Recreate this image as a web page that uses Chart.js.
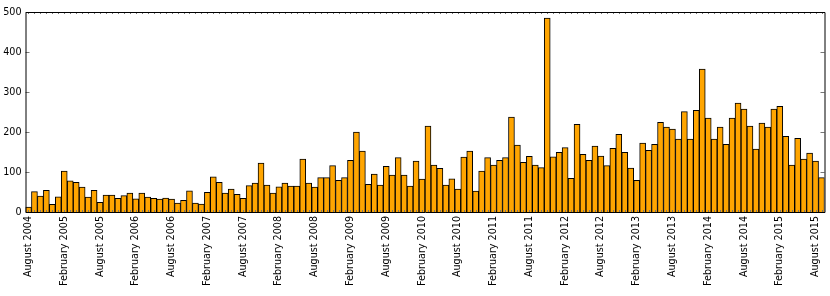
<!DOCTYPE html>
<html><head><meta charset="utf-8">
<script src="https://cdn.jsdelivr.net/npm/chart.js@4"></script>
<style>html,body{margin:0;padding:0;background:#fff}#wrap{width:830px;height:296px}</style>
</head><body><div id="wrap"><canvas id="c" width="830" height="296"></canvas></div>
<script>
const monthNames = ['January','February','March','April','May','June','July','August','September','October','November','December'];
const startYear = 2004;
const startMonthIndex = 7; // August
const values = [
  12, 51, 40, 54, 19, 38, 102, 78, 74, 62, 37, 54, 24, 42, 42, 34, 41, 47, 33, 47,
  37, 34, 32, 35, 32, 22, 29, 53, 22, 20, 49, 88, 74, 47, 57, 44, 34, 66, 72, 122,
  67, 47, 63, 72, 65, 65, 132, 72, 62, 86, 86, 116, 79, 86, 129, 200, 152, 69, 95, 67,
  114, 92, 136, 92, 65, 127, 82, 215, 117, 109, 67, 83, 57, 137, 152, 52, 102, 136, 117, 129,
  136, 237, 167, 124, 139, 117, 111, 485, 138, 149, 161, 84, 219, 144, 129, 165, 140, 116, 159, 194,
  149, 110, 79, 172, 154, 169, 224, 212, 207, 182, 251, 182, 254, 357, 235, 182, 212, 169, 235, 272,
  257, 215, 157, 222, 212, 257, 264, 189, 117, 184, 132, 147, 127, 86
];
const categories = values.map((_, i) => {
  const m = (startMonthIndex + i) % 12;
  const y = startYear + Math.floor((startMonthIndex + i) / 12);
  return monthNames[m] + ' ' + y;
});
const labelEvery = 6;
const yTicks = [0, 100, 200, 300, 400, 500];

const FONT = {family: "'DejaVu Sans', sans-serif", size: 9.6};

const framePlugin = {
  id: 'frame',
  afterDatasetsDraw(chart) {
    const {ctx, chartArea: a, scales: {x, y}} = chart;
    ctx.save();
    ctx.strokeStyle = '#777';
    ctx.lineWidth = 1;
    ctx.beginPath();
    for (let i = 0; i < categories.length; i++) {
      const px = Math.round(x.getPixelForValue(i)) + 0.5;
      ctx.moveTo(px, a.top); ctx.lineTo(px, a.top + 2);
      ctx.moveTo(px, a.bottom); ctx.lineTo(px, a.bottom - 2);
    }
    yTicks.forEach(v => {
      const py = Math.round(y.getPixelForValue(v)) + 0.5;
      ctx.moveTo(a.left, py); ctx.lineTo(a.left + 4, py);
      ctx.moveTo(a.right, py); ctx.lineTo(a.right - 4, py);
    });
    ctx.stroke();
    ctx.strokeStyle = '#000';
    const L = Math.round(a.left), R = Math.round(a.right);
    const T = Math.round(a.top) + 0.5, B = Math.round(a.bottom) + 0.5;
    ctx.beginPath();
    ctx.moveTo(L, T); ctx.lineTo(R, T);
    ctx.moveTo(L, B); ctx.lineTo(R, B);
    ctx.moveTo(L, T); ctx.lineTo(L, B);
    ctx.moveTo(R, T); ctx.lineTo(R, B);
    ctx.stroke();
    ctx.restore();
  }
};

new Chart(document.getElementById('c'), {
  type: 'bar',
  data: {
    labels: categories,
    datasets: [{
      data: values,
      backgroundColor: '#FFA500',
      borderColor: '#000',
      borderWidth: 1,
      barPercentage: 1,
      categoryPercentage: 1
    }]
  },
  options: {
    responsive: false,
    animation: false,
    devicePixelRatio: 1,
    layout: {padding: {top: 12, right: 5.5, left: 0, bottom: 0}},
    plugins: {legend: {display: false}, tooltip: {enabled: false}},
    scales: {
      x: {
        type: 'category',
        offset: true,
        grid: {display: false, drawTicks: false},
        border: {display: false},
        ticks: {
          autoSkip: false, maxRotation: 90, minRotation: 90, padding: 4,
          color: '#000', font: FONT,
          callback: function (v, i) { return i % labelEvery === 0 ? categories[i] : ''; }
        },
        afterFit: s => { s.height = 84; s.paddingRight = 0; s.paddingLeft = 0; }
      },
      y: {
        min: 0, max: 500,
        grid: {display: false, drawTicks: false},
        border: {display: false},
        ticks: {stepSize: 100, padding: 4, color: '#000', font: FONT},
        afterFit: s => { s.width = 25.5; }
      }
    }
  },
  plugins: [framePlugin]
});
</script></body></html>
